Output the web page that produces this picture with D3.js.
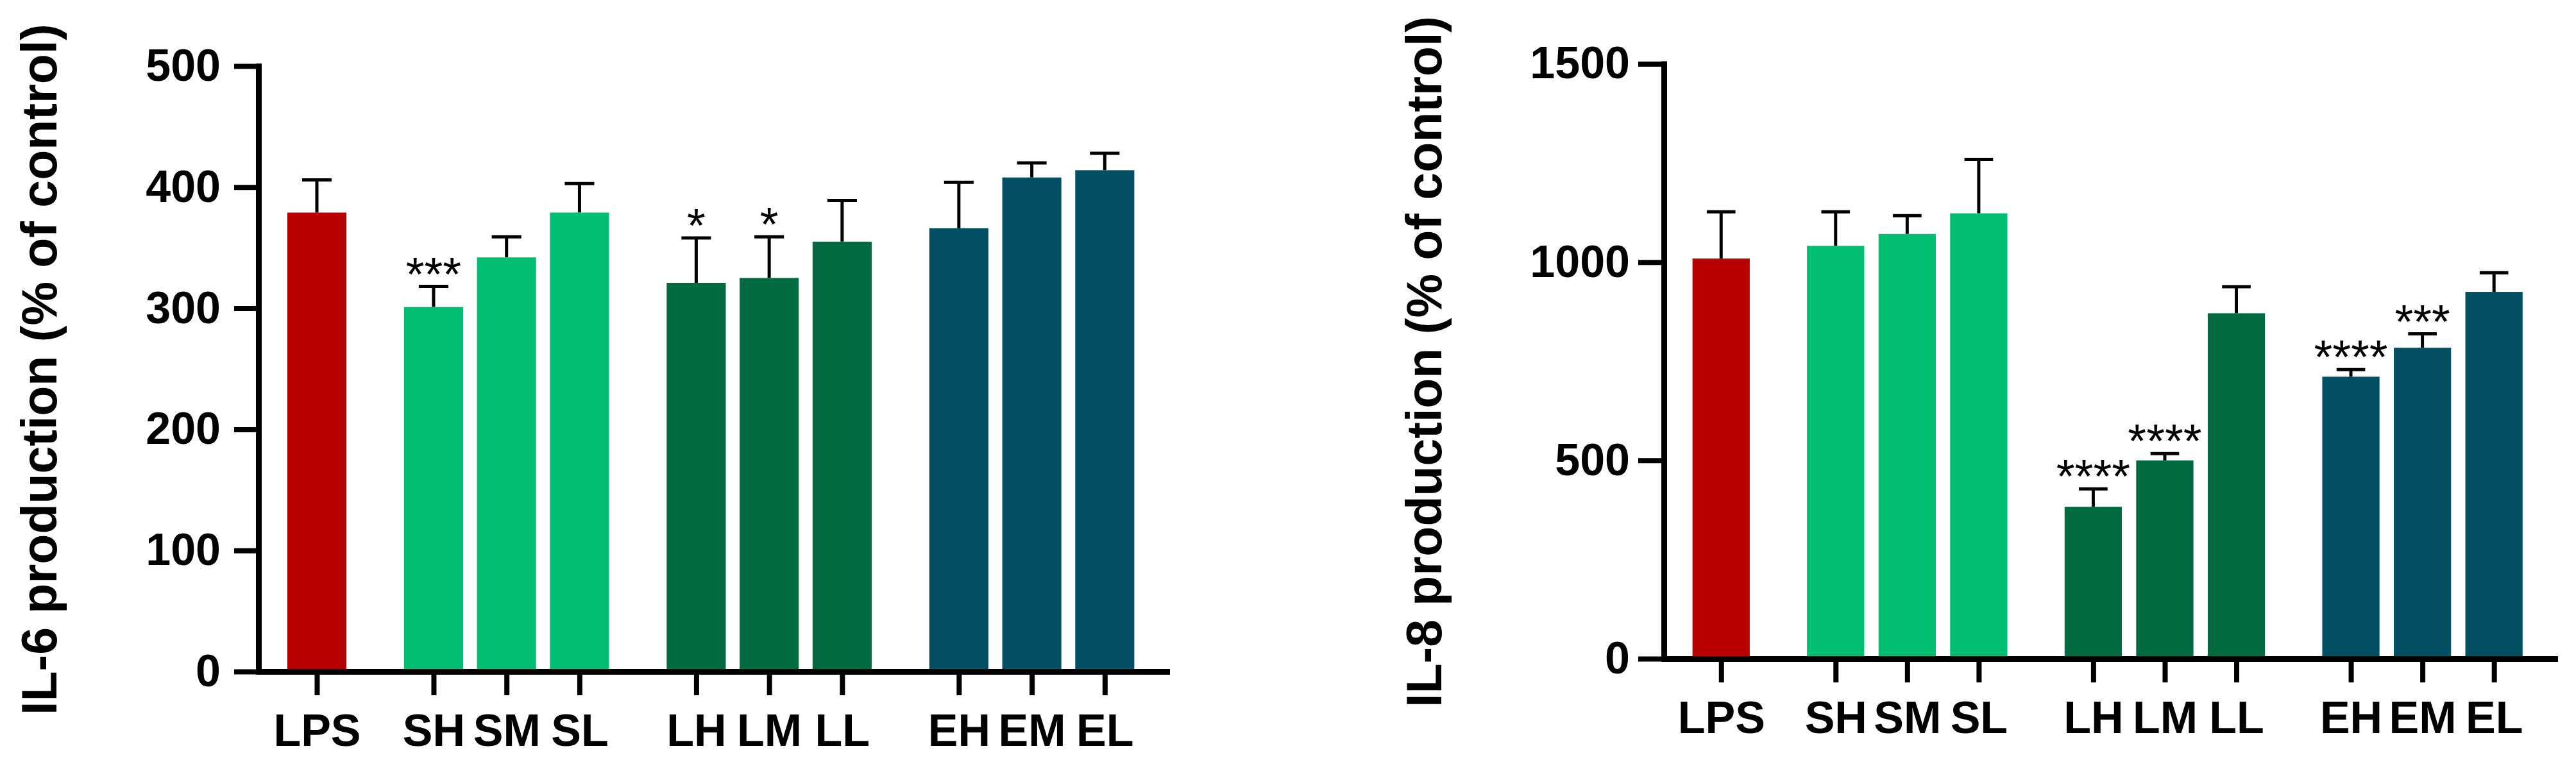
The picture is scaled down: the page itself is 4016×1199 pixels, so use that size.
<!DOCTYPE html>
<html>
<head>
<meta charset="utf-8">
<script src="https://cdn.jsdelivr.net/npm/d3@7"></script>
<style>
  body { margin: 0; background: #fff; }
  text { font-family: "Liberation Sans", Arial, sans-serif; }
</style>
</head>
<body>
<div id="chart"></div>
<script>
// categories and groups (group decides colour and spacing)
var categories = ["LPS", "SH", "SM", "SL", "LH", "LM", "LL", "EH", "EM", "EL"];
var groups = ["LPS", "S", "S", "S", "L", "L", "L", "E", "E", "E"];

// IL-6 values (% of control), error bars and significance
var il6Mean = [379, 301, 342, 379, 321, 325, 355, 366, 408, 414];
var il6Err = [27, 17, 17, 24, 37, 34, 34, 38, 12, 14];
var il6Sig = ["", "***", "", "", "*", "*", "", "", "", ""];
var il6Ticks = [0, 100, 200, 300, 400, 500];

// IL-8 values
var il8Mean = [1009, 1041, 1071, 1123, 383, 500, 871, 711, 784, 925];
var il8Err = [118, 86, 46, 136, 45, 17, 67, 18, 35, 48];
var il8Sig = ["", "", "", "", "****", "****", "", "****", "***", ""];
var il8Ticks = [0, 500, 1000, 1500];

var groupColors = { LPS: "#b90000", S: "#00bf72", L: "#006a40", E: "#004f62" };

var svg = d3.select("#chart")
  .append("svg")
  .attr("width", 4016)
  .attr("height", 1199);

// slot positions: 1 step inside a group, 1.6 between groups
var slots = [];
groups.forEach(function(g, i) {
  if (i === 0) slots.push(0);
  else slots.push(slots[i - 1] + (g === groups[i - 1] ? 1 : 1.6));
});

function drawChart(opt) {
  var x = d3.scaleLinear()
    .domain([-0.8, slots[slots.length - 1] + 0.85])
    .range([opt.left, opt.right]);

  var y = d3.scaleLinear()
    .domain([0, opt.ticks[opt.ticks.length - 1]])
    .range([opt.bottom, opt.top]);

  var g = svg.append("g");
  var bw = x(opt.barFrac) - x(0);

  var rows = categories.map(function(c, i) {
    return { cat: c, group: groups[i], pos: slots[i], mean: opt.mean[i], err: opt.err[i], sig: opt.sig[i] };
  });

  // error bars (upper only) drawn first, bars cover lower part
  var eb = g.selectAll(".err")
    .data(rows)
    .enter()
    .append("g")
    .attr("class", "err")
    .attr("stroke", "#000")
    .attr("stroke-width", 5);

  eb.append("line")
    .attr("x1", d => x(d.pos))
    .attr("x2", d => x(d.pos))
    .attr("y1", d => y(d.mean))
    .attr("y2", d => y(d.mean + d.err));

  eb.append("line")
    .attr("x1", d => x(d.pos) - bw / 4)
    .attr("x2", d => x(d.pos) + bw / 4)
    .attr("y1", d => y(d.mean + d.err))
    .attr("y2", d => y(d.mean + d.err));

  g.selectAll(".bar")
    .data(rows)
    .enter()
    .append("rect")
    .attr("class", "bar")
    .attr("x", d => x(d.pos) - bw / 2)
    .attr("y", d => y(d.mean))
    .attr("width", bw)
    .attr("height", d => y(0) - y(d.mean))
    .attr("fill", d => groupColors[d.group]);

  // significance stars
  g.selectAll(".sig")
    .data(rows.filter(d => d.sig))
    .enter()
    .append("text")
    .attr("class", "sig")
    .attr("x", d => x(d.pos))
    .attr("y", d => y(d.mean + d.err) + 6)
    .attr("text-anchor", "middle")
    .attr("font-size", 74)
    .text(d => d.sig);

  // axes
  var leftAxis = d3.axisLeft(y)
    .tickValues(opt.ticks)
    .tickSizeInner(opt.tickLen)
    .tickSizeOuter(0)
    .tickPadding(opt.yPad)
    .tickFormat(d3.format("d"));

  var bottomAxis = d3.axisBottom(x)
    .tickValues(slots)
    .tickSizeInner(37)
    .tickSizeOuter(0)
    .tickPadding(29)
    .tickFormat((d, i) => categories[i]);

  var ya = g.append("g")
    .attr("transform", `translate(${opt.left}, 0)`)
    .call(leftAxis);

  var xa = g.append("g")
    .attr("transform", `translate(0, ${opt.bottom})`)
    .call(bottomAxis);

  [ya, xa].forEach(function(a) {
    a.select(".domain").attr("stroke", "#000").attr("stroke-width", 9).attr("stroke-linecap", "square");
    a.selectAll(".tick line").attr("stroke", "#000").attr("stroke-width", 8);
    a.selectAll(".tick text")
      .attr("fill", "#000")
      .attr("font-size", 70)
      .attr("font-weight", "bold")
      .attr("font-family", "'Liberation Sans', Arial, sans-serif");
  });

  // y title
  g.append("text")
    .attr("transform", `translate(${opt.titleX}, ${opt.titleY}) rotate(-90)`)
    .attr("text-anchor", "middle")
    .attr("font-size", 77)
    .attr("font-weight", "bold")
    .text(opt.title);
}

drawChart({
  left: 403, right: 1819, top: 103, bottom: 1047,
  mean: il6Mean, err: il6Err, sig: il6Sig, ticks: il6Ticks,
  barFrac: 0.81, tickLen: 38, yPad: 21,
  title: "IL-6 production (% of control)", titleX: 88, titleY: 576
});

drawChart({
  left: 2594, right: 3983, top: 99.5, bottom: 1027,
  mean: il8Mean, err: il8Err, sig: il8Sig, ticks: il8Ticks,
  barFrac: 0.8, tickLen: 40, yPad: 13,
  title: "IL-8 production (% of control)", titleX: 2247, titleY: 564
});
</script>
</body>
</html>
